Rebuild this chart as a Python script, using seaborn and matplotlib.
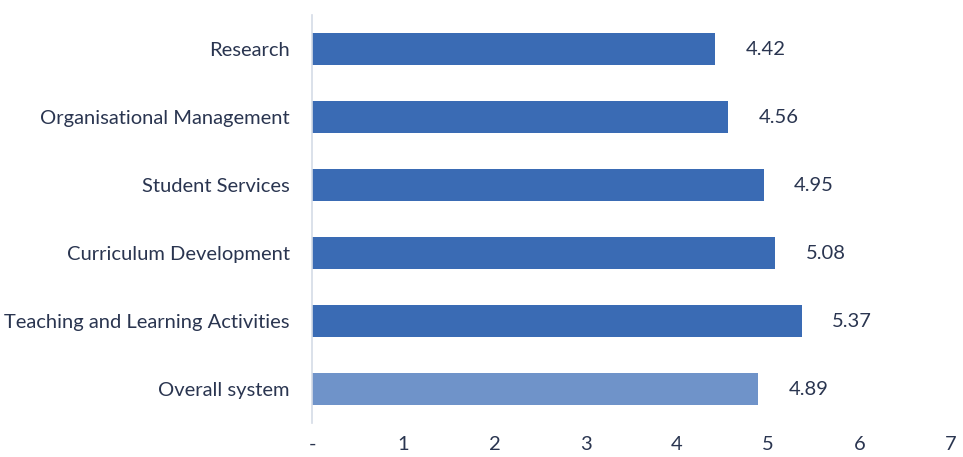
import matplotlib
matplotlib.use("Agg")
import matplotlib.pyplot as plt
import seaborn as sns
import pandas as pd

categories = ["Research", "Organisational Management", "Student Services",
              "Curriculum Development", "Teaching and Learning Activities", "Overall system"]
values = [4.42, 4.56, 4.95, 5.08, 5.37, 4.89]
value_labels = ["4.42", "4.56", "4.95", "5.08", "5.37", "4.89"]
x_ticks = [0, 1, 2, 3, 4, 5, 6, 7]
x_tick_labels = ["-", "1", "2", "3", "4", "5", "6", "7"]
bar_colors = ["#3a6bb4", "#3a6bb4", "#3a6bb4", "#3a6bb4", "#3a6bb4", "#6f93c9"]

sns.set_theme(style="white")
plt.rcParams["font.family"] = ["Lato", "DejaVu Sans"]
text_color = "#2a3550"

df = pd.DataFrame({"category": categories, "value": values})

fig = plt.figure(figsize=(9.63, 4.57), dpi=100)
ax = fig.add_axes([0.324, 0.074, 0.663, 0.893])

sns.barplot(data=df, x="value", y="category", hue="category", palette=bar_colors,
            orient="h", width=0.47, legend=False, ax=ax, saturation=1)

for p in ax.patches:
    p.set_edgecolor("none")

for i, (v, lab) in enumerate(zip(values, value_labels)):
    ax.annotate(lab, xy=(v, i), xytext=(22, 0), textcoords="offset points",
                ha="left", va="center", fontsize=14.5, color=text_color)

ax.set_xlim(0, 7)
ax.set_xticks(x_ticks)
ax.set_xticklabels(x_tick_labels)
ax.set_xlabel("")
ax.set_ylabel("")
ax.tick_params(axis="both", length=0, labelsize=14.5, labelcolor=text_color)
ax.tick_params(axis="x", pad=9)
ax.tick_params(axis="y", pad=16)
for s in ["top", "right", "bottom"]:
    ax.spines[s].set_visible(False)
ax.spines["left"].set_color("#d4dbe6")
ax.spines["left"].set_linewidth(1.2)

fig.savefig("out.png", dpi=100)
